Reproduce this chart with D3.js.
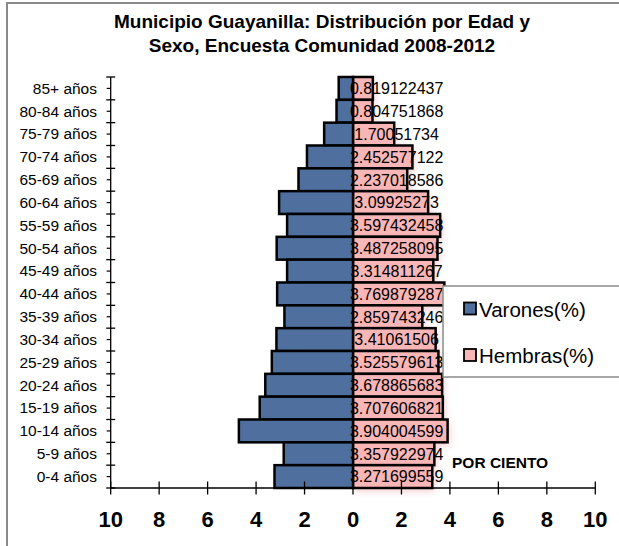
<!DOCTYPE html>
<html>
<head>
<meta charset="utf-8">
<script src="https://cdn.jsdelivr.net/npm/d3@7"></script>
<style>
  html, body { margin: 0; padding: 0; background: #fff; }
  svg { display: block; font-family: "Liberation Sans", Arial, sans-serif; }
</style>
</head>
<body>
<svg id="chart" width="619" height="546"></svg>
<script>
// Age groups, top to bottom
const ageGroups = ["85+ años", "80-84 años", "75-79 años", "70-74 años", "65-69 años",
  "60-64 años", "55-59 años", "50-54 años", "45-49 años", "40-44 años", "35-39 años",
  "30-34 años", "25-29 años", "20-24 años", "15-19 años", "10-14 años", "5-9 años", "0-4 años"];

// Share of population (%) by sex
const varones = [0.59, 0.68, 1.19, 1.90, 2.25, 3.05, 2.72, 3.15, 2.72, 3.13, 2.83,
  3.16, 3.35, 3.62, 3.85, 4.71, 2.86, 3.24];
const hembras = [0.819122437, 0.804751868, 1.70051734, 2.452577122, 2.237018586,
  3.09925273, 3.597432458, 3.487258095, 3.314811267, 3.769879287, 2.859743246,
  3.41061506, 3.525579613, 3.678865683, 3.707606821, 3.904004599, 3.357922974,
  3.271699559];
const hembrasLabels = ["0.819122437", "0.804751868", "1.70051734", "2.452577122",
  "2.237018586", "3.09925273", "3.597432458", "3.487258095", "3.314811267",
  "3.769879287", "2.859743246", "3.41061506", "3.525579613", "3.678865683",
  "3.707606821", "3.904004599", "3.357922974", "3.271699559"];

const xTicks = [-10, -8, -6, -4, -2, 0, 2, 4, 6, 8, 10];
const titleLines = ["Municipio Guayanilla: Distribución por Edad y",
  "Sexo, Encuesta Comunidad 2008-2012"];
const legendItems = ["Varones(%)", "Hembras(%)"];

const colMale = "#4f6f9f";
const colFemale = "#f9b6b6";

const svg = d3.select("#chart");

const plot = { left: 110.7, right: 595.3, top: 77, bottom: 488 };

const x = d3.scaleLinear().domain([-10, 10]).range([plot.left, plot.right]);
const y = d3.scaleBand().domain(ageGroups).range([plot.top, plot.bottom]).padding(0);

// soft glow behind the female bars
const defs = svg.append("defs");
const f = defs.append("filter").attr("id", "glow")
  .attr("x", "-20%").attr("y", "-50%").attr("width", "150%").attr("height", "200%");
f.append("feGaussianBlur").attr("stdDeviation", 3.5);

// outer chart frame
svg.append("rect").attr("x", 7).attr("y", 3).attr("width", 700).attr("height", 600)
  .attr("fill", "#fff").attr("stroke", "#8a8a8a").attr("stroke-width", 2);

// title
svg.append("g").selectAll("text").data(titleLines).join("text")
  .attr("x", 322).attr("y", (d, i) => 28 + i * 24)
  .attr("text-anchor", "middle")
  .attr("font-size", 19).attr("font-weight", "bold").attr("fill", "#000")
  .text(d => d);

// glow layer
svg.append("g").selectAll("rect").data(hembras).join("rect")
  .attr("x", x(0) + 2)
  .attr("y", (d, i) => y(ageGroups[i]) + 3)
  .attr("width", d => x(d) - x(0))
  .attr("height", y.bandwidth())
  .attr("fill", "#f4a0a0").attr("opacity", 0.55)
  .attr("filter", "url(#glow)");

// female bars
svg.append("g").selectAll("rect").data(hembras).join("rect")
  .attr("x", x(0))
  .attr("y", (d, i) => y(ageGroups[i]))
  .attr("width", d => x(d) - x(0))
  .attr("height", y.bandwidth())
  .attr("fill", colFemale).attr("stroke", "#000").attr("stroke-width", 2.5);

// male bars (drawn to the left)
svg.append("g").selectAll("rect").data(varones).join("rect")
  .attr("x", d => x(-d))
  .attr("y", (d, i) => y(ageGroups[i]))
  .attr("width", d => x(0) - x(-d))
  .attr("height", y.bandwidth())
  .attr("fill", colMale).attr("stroke", "#000").attr("stroke-width", 2.5);

// value labels for the female series
svg.append("g").selectAll("text").data(hembrasLabels).join("text")
  .attr("x", x(1.8))
  .attr("y", (d, i) => y(ageGroups[i]) + y.bandwidth() / 2 + 5.8)
  .attr("text-anchor", "middle")
  .attr("font-size", 16).attr("fill", "#000")
  .text(d => d);

// category axis (at x = -10)
const yAxisG = svg.append("g");
yAxisG.append("line").attr("x1", plot.left).attr("x2", plot.left)
  .attr("y1", plot.top).attr("y2", plot.bottom).attr("stroke", "#000").attr("stroke-width", 1.3);
const bounds = ageGroups.map(g => y(g)).concat([plot.bottom]);
yAxisG.selectAll("line.major").data(bounds).join("line").attr("class", "major")
  .attr("x1", plot.left - 4.5).attr("x2", plot.left + 4.5)
  .attr("y1", d => d).attr("y2", d => d).attr("stroke", "#000").attr("stroke-width", 1.3);
yAxisG.selectAll("line.minor").data(ageGroups).join("line").attr("class", "minor")
  .attr("x1", plot.left - 4).attr("x2", plot.left)
  .attr("y1", d => y(d) + y.bandwidth() / 2).attr("y2", d => y(d) + y.bandwidth() / 2)
  .attr("stroke", "#000").attr("stroke-width", 1.2);
yAxisG.selectAll("text").data(ageGroups).join("text")
  .attr("x", 97).attr("y", d => y(d) + y.bandwidth() / 2 + 5.3)
  .attr("text-anchor", "end").attr("font-size", 15.5).attr("fill", "#000")
  .text(d => d);

// value axis
const xAxisG = svg.append("g");
xAxisG.append("line").attr("x1", plot.left).attr("x2", plot.right)
  .attr("y1", plot.bottom).attr("y2", plot.bottom).attr("stroke", "#000").attr("stroke-width", 1.3);
xAxisG.selectAll("line.tick").data(xTicks).join("line").attr("class", "tick")
  .attr("x1", d => x(d)).attr("x2", d => x(d))
  .attr("y1", plot.bottom - 6.5).attr("y2", plot.bottom + 6.5)
  .attr("stroke", "#000").attr("stroke-width", 1.3);
xAxisG.selectAll("text").data(xTicks).join("text")
  .attr("x", d => x(d)).attr("y", 527)
  .attr("text-anchor", "middle").attr("font-size", 22).attr("font-weight", "bold")
  .attr("fill", "#000")
  .text(d => Math.abs(d));

// unit note
svg.append("text").attr("x", 452).attr("y", 468)
  .attr("font-size", 15.5).attr("font-weight", "bold").attr("fill", "#000")
  .text("POR CIENTO");

// legend
const lg = svg.append("g");
lg.append("rect").attr("x", 443).attr("y", 286).attr("width", 240).attr("height", 91)
  .attr("fill", "#fff").attr("stroke", "#8a8a8a").attr("stroke-width", 1.5);
const legendCols = [colMale, colFemale];
lg.selectAll("rect.sw").data(legendItems).join("rect").attr("class", "sw")
  .attr("x", 464).attr("y", (d, i) => 302.5 + i * 46.5)
  .attr("width", 12).attr("height", 12)
  .attr("fill", (d, i) => legendCols[i]).attr("stroke", "#000").attr("stroke-width", 1.8);
lg.selectAll("text").data(legendItems).join("text")
  .attr("x", 479).attr("y", (d, i) => 316.5 + i * 46.5)
  .attr("font-size", 20.5).attr("fill", "#000")
  .text(d => d);
</script>
</body>
</html>
